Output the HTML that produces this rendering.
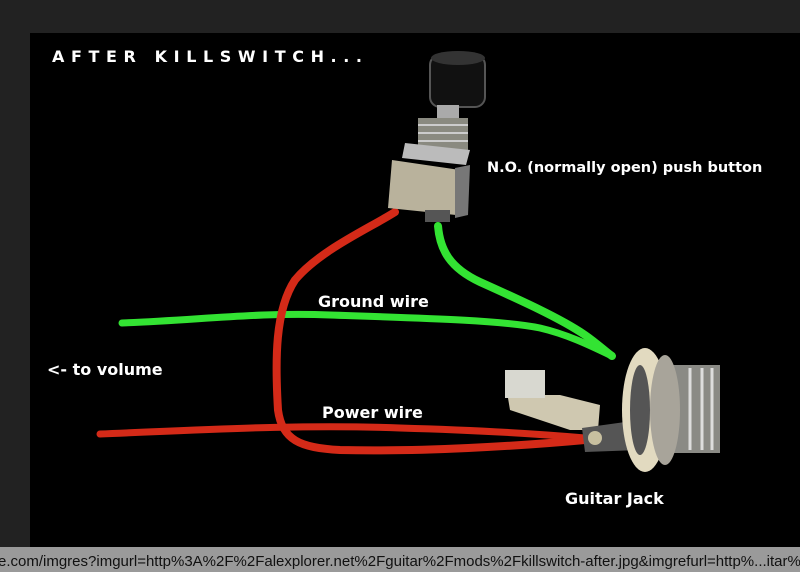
<!DOCTYPE html>
<html><head><style>
html,body{margin:0;padding:0;width:800px;height:572px;overflow:hidden;background:#222;}
svg{display:block}
</style></head><body>
<svg width="800" height="572" xmlns="http://www.w3.org/2000/svg">
<rect x="0" y="0" width="800" height="572" fill="#222"/>
<rect x="30" y="33" width="770" height="514" fill="#000"/>
<rect x="0" y="547" width="800" height="25" fill="#9a9a9a"/>
<text x="-2" y="566" font-family="Liberation Sans, sans-serif" font-size="15" fill="#111">e.com/imgres?imgurl=http%3A%2F%2Falexplorer.net%2Fguitar%2Fmods%2Fkillswitch-after.jpg&amp;imgrefurl=http%...itar%20</text>

<text x="52" y="62" font-family="DejaVu Sans, sans-serif" font-weight="bold" font-size="16" letter-spacing="6.6" fill="#fff">AFTER KILLSWITCH...</text>

<g fill="none" stroke-linecap="round" stroke-linejoin="round">
<path d="M122 323 C200 320 260 312 330 315 C420 318 500 320 540 328 C570 335 595 348 612 356" stroke="#33e333" stroke-width="7"/>
<path d="M438 226 C440 250 450 268 480 282 C520 300 560 318 585 335 C598 344 606 352 612 356" stroke="#33e333" stroke-width="8"/>
<path d="M100 434 C200 430 300 424 400 428 C470 430 540 434 585 438" stroke="#d42a18" stroke-width="7"/>
<path d="M395 212 C370 228 320 250 295 280 C275 310 275 360 278 410 C282 440 300 448 340 450 C420 452 520 446 585 440" stroke="#d42a18" stroke-width="8"/>
</g>

<g>
<rect x="430" y="55" width="55" height="52" rx="10" fill="#111" stroke="#555" stroke-width="2"/>
<ellipse cx="458" cy="58" rx="27" ry="7" fill="#333"/>
<rect x="437" y="105" width="22" height="25" fill="#aaa"/>
<rect x="418" y="118" width="50" height="35" fill="#8a8a80"/>
<g stroke="#ccc" stroke-width="2"><line x1="418" y1="125" x2="468" y2="125"/><line x1="418" y1="133" x2="468" y2="133"/><line x1="418" y1="141" x2="468" y2="141"/></g>
<polygon points="405,143 470,150 466,165 402,158" fill="#bbb"/>
<polygon points="392,160 460,170 456,215 388,208" fill="#b9b29c"/>
<polygon points="455,168 470,165 468,215 455,218" fill="#777"/>
<rect x="425" y="210" width="25" height="12" fill="#555"/>
</g>

<g>
<path d="M505 380 L540 370 L545 395 L560 395 L600 405 L598 430 L570 430 L540 420 L510 410 Z" fill="#cfc8b0"/>
<rect x="505" y="370" width="40" height="28" fill="#d8d8d0"/>
<polygon points="582,428 640,420 640,450 585,452" fill="#555"/>
<circle cx="595" cy="438" r="7" fill="#c8c0a0"/>
<rect x="640" y="365" width="80" height="88" fill="#8a8a85"/>
<g stroke="#ddd" stroke-width="3"><line x1="690" y1="368" x2="690" y2="450"/><line x1="702" y1="368" x2="702" y2="450"/><line x1="712" y1="368" x2="712" y2="450"/></g>
<ellipse cx="645" cy="410" rx="23" ry="62" fill="#e2dac0"/>
<ellipse cx="665" cy="410" rx="15" ry="55" fill="#a8a49a"/>
<ellipse cx="640" cy="410" rx="10" ry="45" fill="#555"/>
</g>

<g font-family="DejaVu Sans, sans-serif" font-weight="bold" fill="#fff">
<text x="487" y="172" font-size="14.5">N.O. (normally open) push button</text>
<text x="318" y="307" font-size="16">Ground wire</text>
<text x="47" y="375" font-size="16">&lt;- to volume</text>
<text x="322" y="418" font-size="16">Power wire</text>
<text x="565" y="504" font-size="16">Guitar Jack</text>
</g>
</svg>
</body></html>
